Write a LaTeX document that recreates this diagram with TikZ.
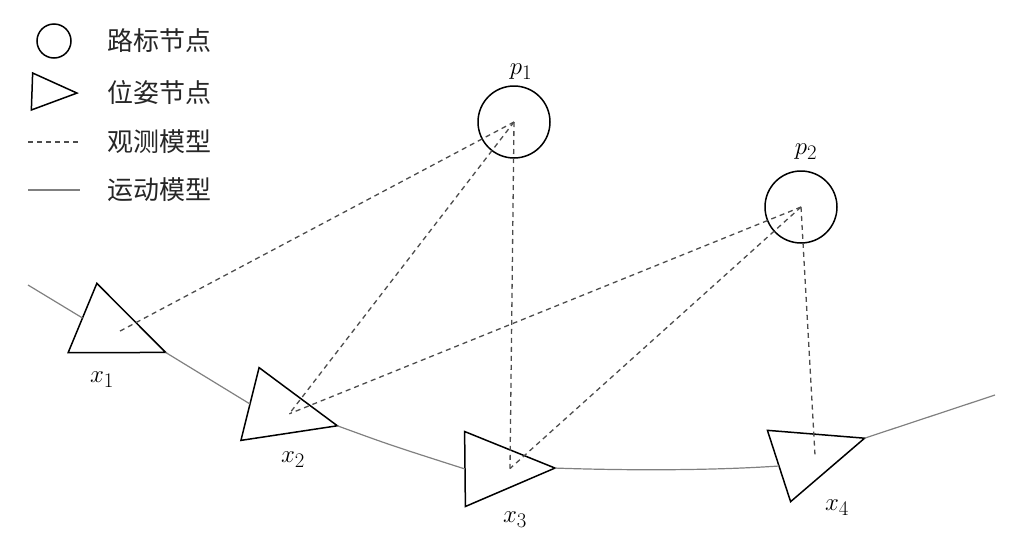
\documentclass[tikz,border=0pt]{standalone}
\usepackage{fontspec}
\newfontfamily\cjk{Noto Sans CJK SC}
\usetikzlibrary{shapes.geometric,positioning,calc}

\begin{document}
\begin{tikzpicture}[x=1pt, y=-1pt,
    landmark/.style={draw, circle, line width=1.5pt, minimum size=72pt, inner sep=0pt, outer sep=0pt},
    pose/.style={draw, isosceles triangle, isosceles triangle stretches, line width=1.5pt,
        minimum width=75pt, minimum height=90pt, inner sep=0pt, outer sep=0pt, anchor=lower side},
    obs/.style={draw=black!70, line width=1.3pt, dash pattern=on 5pt off 4pt},
    motion/.style={draw=black!50, line width=1.2pt},
    legtext/.style={anchor=west, inner sep=0pt, font=\cjk\fontsize{26}{30}\selectfont, text=black!85},
    lab/.style={inner sep=0pt, font=\fontsize{31}{34}\selectfont}]
    \useasboundingbox (0,0) rectangle (1009,552);

    % legend
    \node[landmark, minimum size=34pt] (legp) at (54,41) {};
    \node[pose, minimum width=37pt, minimum height=45pt, rotate=-2] (legx) at (32,91.5) {};
    \path (28,142) coordinate (legoa) (78,142) coordinate (legob);
    \path (28,190) coordinate (legma) (80,190) coordinate (legmb);
    \draw[obs] (legoa) -- (legob);
    \draw[motion] (legma) -- (legmb);
    \node[legtext] (legpt) at (107,41) {路标节点};
    \node[legtext] (legxt) at (107,93) {位姿节点};
    \node[legtext] (legot) at (107,142) {观测模型};
    \node[legtext] (legmt) at (107,190) {运动模型};

    % landmarks
    \node[landmark] (p1) at (514,122) {};
    \node[landmark] (p2) at (801,207) {};
    \node[lab] (p1lab) at (521,72) {$p_1$};
    \node[lab] (p2lab) at (806,152) {$p_2$};

    % poses
    \node[pose, rotate=-22.5] (x1) at (82.5,318) {};
    \node[pose, rotate=-14] (x2) at (250,404) {};
    \node[pose, rotate=0.6] (x3) at (465,469) {};
    \node[pose, rotate=18] (x4) at (779,466) {};
    \node[lab] (x1lab) at (102,380) {$x_1$};
    \node[lab] (x2lab) at (293,460) {$x_2$};
    \node[lab] (x3lab) at (515,520) {$x_3$};
    \node[lab] (x4lab) at (837,508) {$x_4$};
    \path ($(x1.lower side)!0.42!(x1.apex)$) coordinate (x1o);
    \path ($(x2.lower side)!0.45!(x2.apex)$) coordinate (x2o);
    \path ($(x3.lower side)!0.5!(x3.apex)$) coordinate (x3o);
    \path ($(x4.lower side)!0.42!(x4.apex)$) coordinate (x4o);

    % motion model
    \path (28,285) coordinate (s0) (995,395) coordinate (s5);
    \draw[motion] (s0) -- (x1.lower side);
    \draw[motion] (x1.apex) -- (x2.lower side);
    \draw[motion] (x2.apex) .. controls (390,445) .. (x3.lower side);
    \draw[motion] (x3.apex) .. controls (640,471) and (720,470) .. (x4.lower side);
    \draw[motion] (x4.apex) -- (s5);

    % observation model
    \draw[obs] (p1.center) -- (x1o);
    \draw[obs] (p1.center) -- (x2o);
    \draw[obs] (p1.center) -- (x3o);
    \draw[obs] (p2.center) -- (x2o);
    \draw[obs] (p2.center) -- (x3o);
    \draw[obs] (p2.center) -- (x4o);
\end{tikzpicture}
\end{document}
